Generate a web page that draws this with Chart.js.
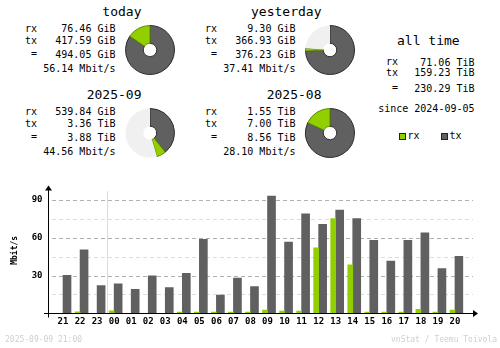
<!DOCTYPE html>
<html>
<head>
<meta charset="utf-8">
<script src="https://cdn.jsdelivr.net/npm/chart.js@4.4.1/dist/chart.umd.min.js"></script>
<style>
  html, body { margin: 0; padding: 0; background: #fff; }
  #wrap { position: relative; width: 500px; height: 348px; overflow: hidden;
          font-family: "DejaVu Sans Mono", monospace; color: #000; }
  .t { position: absolute; white-space: pre; }
  canvas { position: absolute; }
  .box { position: absolute; width: 5px; height: 5px; border: 1px solid #222; }
</style>
</head>
<body>
<div id="wrap">
  <canvas id="hourly" width="500" height="178" style="left:0;top:170px"></canvas>
</div>
<script>
// ── Summary periods ─────────────────────────────────────────
const periods  = ['today', 'yesterday', '2025-09', '2025-08'];
const rxVal    = [76.46, 9.30, 539.84, 1.55];
const rxUnit   = ['GiB', 'GiB', 'GiB', 'TiB'];
const txVal    = [417.59, 366.93, 3.36, 7.00];
const txUnit   = ['GiB', 'GiB', 'TiB', 'TiB'];
const totVal   = [494.05, 376.23, 3.88, 8.56];
const totUnit  = ['GiB', 'GiB', 'TiB', 'TiB'];
const avgRate  = [56.14, 37.41, 44.56, 28.10];

// ── All time ────────────────────────────────────────────────
const allLabels = ['rx', 'tx', '='];
const allVals   = [71.06, 159.23, 230.29];
const allUnit   = 'TiB';
const sinceDate = '2024-09-05';
const stamp     = '2025-09-09 21:00';

// ── Hourly (Mbit/s) ─────────────────────────────────────────
const hours  = ['21','22','23','00','01','02','03','04','05','06','07','08',
                '09','10','11','12','13','14','15','16','17','18','19','20'];
const rxRate = [0, 1.2, 0, 2, 0, 0, 0, 1, 1, 1, 1, 1,
                2.5, 1.7, 1.7, 52, 75.2, 38.5, 1, 1, 1, 3.2, 1, 2.5];
const txRate = [30.2, 50.5, 22, 23.5, 19, 29.7, 20.5, 31.7, 58.7, 14.5, 28, 21.2,
                93.2, 56.5, 79, 70.7, 82, 75.2, 58, 41.5, 58, 64, 35.5, 45.2];

const RX = '#92cf00', TX = '#606060', RXD = '#5e8a00', TXD = '#2c2c2c', EMPTY = '#f0f0f0';
const wrap = document.getElementById('wrap');

function text(str, x, y, size, anchor, color) {
  const d = document.createElement('div');
  d.className = 't';
  d.textContent = str;
  d.style.fontSize = size + 'px';
  d.style.lineHeight = size + 'px';
  d.style.top = (y - size / 2) + 'px';
  if (anchor === 'right') d.style.right = (500 - x) + 'px';
  else d.style.left = x + 'px';
  if (color) d.style.color = color;
  wrap.appendChild(d);
}

const toGiB = (v, u) => u === 'TiB' ? v * 1024 : v;

// ── Period blocks: text + pie ───────────────────────────────
periods.forEach((name, i) => {
  const dx = (i % 2) * 180, dy = Math.floor(i / 2) * 83;
  text(name, 141.5 + dx, 11 + dy, 13, 'right');
  text('rx', 25 + dx, 28.5 + dy, 10);
  text('tx', 25 + dx, 40.8 + dy, 10);
  text('=', 31 + dx, 54.3 + dy, 10);
  text(rxVal[i].toFixed(2) + ' ' + rxUnit[i], 115.5 + dx, 29 + dy, 10, 'right');
  text(txVal[i].toFixed(2) + ' ' + txUnit[i], 115.5 + dx, 41.3 + dy, 10, 'right');
  text(totVal[i].toFixed(2) + ' ' + totUnit[i], 115.5 + dx, 54.5 + dy, 10, 'right');
  text(avgRate[i].toFixed(2) + ' Mbit/s', 115.5 + dx, 68.8 + dy, 10, 'right');

  // pies of a pair share the scale of the bigger total
  const pair = i < 2 ? [0, 1] : [2, 3];
  const sums = pair.map(k => toGiB(rxVal[k], rxUnit[k]) + toGiB(txVal[k], txUnit[k]));
  const rx = toGiB(rxVal[i], rxUnit[i]), tx = toGiB(txVal[i], txUnit[i]);
  const rest = Math.max(...sums) - rx - tx;

  const c = document.createElement('canvas');
  c.width = 52; c.height = 52;
  c.style.left = (150 + dx - 26) + 'px';
  c.style.top = (49.5 + dy - 26) + 'px';
  wrap.appendChild(c);
  new Chart(c, {
    type: 'doughnut',
    data: {
      labels: ['tx', 'rx', ''],
      datasets: [{
        data: [tx, rx, Math.max(rest, 0)],
        backgroundColor: [TX, RX, EMPTY],
        borderColor: [TXD, RXD, EMPTY],
        borderWidth: [1, 1, 0]
      }]
    },
    options: {
      responsive: false, animation: false, events: [],
      radius: 24.5, cutout: 7,
      plugins: { legend: { display: false }, tooltip: { enabled: false } }
    }
  });
});

// ── All time block ──────────────────────────────────────────
text('all time', 397, 40.5, 13);
allLabels.forEach((lab, i) => {
  const y = [62.7, 73.3, 88.7][i];
  text(lab, lab === '=' ? 392 : 386, y - 0.4, 10);
  text(allVals[i].toFixed(2) + ' ' + allUnit, 474.5, y, 10, 'right');
});
text('since ' + sinceDate, 474.5, 108.8, 10, 'right');

// legend
[[RX, 'rx', 398.5], [TX, 'tx', 440.5]].forEach(([col, lab, x]) => {
  const b = document.createElement('div');
  b.className = 'box';
  b.style.left = x + 'px';
  b.style.top = '132.5px';
  b.style.background = col;
  wrap.appendChild(b);
  text(lab, x + 9, 135.5, 10);
});

// footer
text(stamp, 5, 340, 8, 'left', '#cfcfcf');
text('vnStat / Teemu Toivola', 497, 340, 8, 'right', '#cfcfcf');

// ── Hourly bar chart ────────────────────────────────────────
const axesPlugin = {
  id: 'vnAxes',
  beforeDatasetsDraw(chart) {
    const { ctx } = chart;
    const xs = chart.scales.x, ys = chart.scales.y;
    ctx.save();
    ctx.lineWidth = 1;
    ctx.setLineDash([4, 3]);
    for (let v = 15; v <= 90; v += 15) {
      const y = Math.round(ys.getPixelForValue(v)) + 0.5;
      ctx.strokeStyle = v % 30 === 0 ? '#b0b0b0' : '#dcdcdc';
      ctx.beginPath();
      ctx.moveTo(52, y);
      ctx.lineTo(473, y);
      ctx.stroke();
    }
    // day boundary between 23 and 00
    ctx.setLineDash([]);
    ctx.strokeStyle = '#dcdcdc';
    const dx = Math.round(xs.getPixelForValue(2.5) + 1.5) + 0.5;
    ctx.beginPath();
    ctx.moveTo(dx, ys.getPixelForValue(97));
    ctx.lineTo(dx, ys.getPixelForValue(0));
    ctx.stroke();
    ctx.restore();
  },
  afterDatasetsDraw(chart) {
    const { ctx } = chart;
    const ys = chart.scales.y;
    const y0 = Math.round(ys.getPixelForValue(0)) + 0.5;
    const yTop = ys.getPixelForValue(100);
    const ax = 48.5;
    ctx.save();
    ctx.strokeStyle = '#000';
    ctx.fillStyle = '#000';
    ctx.lineWidth = 1;
    ctx.beginPath();
    ctx.moveTo(44, y0); ctx.lineTo(474, y0);
    ctx.moveTo(ax, y0 + 4); ctx.lineTo(ax, yTop + 2);
    ctx.stroke();
    // arrow heads
    ctx.beginPath();
    ctx.moveTo(478, y0); ctx.lineTo(473, y0 - 3.5); ctx.lineTo(473, y0 + 3.5); ctx.closePath();
    ctx.fill();
    ctx.beginPath();
    ctx.moveTo(ax, yTop - 2); ctx.lineTo(ax - 3.5, yTop + 3); ctx.lineTo(ax + 3.5, yTop + 3); ctx.closePath();
    ctx.fill();
    ctx.restore();
  }
};

new Chart(document.getElementById('hourly'), {
  type: 'bar',
  data: {
    labels: hours,
    datasets: [
      { label: 'rx', data: rxRate, backgroundColor: RX, barThickness: 5, borderWidth: 0 },
      { label: 'tx', data: txRate, backgroundColor: TX, barThickness: 8, borderWidth: 0 }
    ]
  },
  options: {
    responsive: false, animation: false, events: [],
    layout: { padding: { left: 0, top: 10, right: 36.5, bottom: 0 } },
    scales: {
      x: {
        offset: true,
        grid: { display: false, drawTicks: false },
        border: { display: false },
        ticks: {
          color: '#000', padding: 3, autoSkip: false, maxRotation: 0,
          font: { family: 'DejaVu Sans Mono', size: 9, weight: 'bold' }
        },
        afterFit: s => { s.height = 34.7; }
      },
      y: {
        min: 0, max: 100,
        grid: { display: false, drawTicks: false },
        border: { display: false },
        ticks: {
          stepSize: 30, color: '#000', padding: 12,
          font: { family: 'DejaVu Sans Mono', size: 9, weight: 'bold' },
          callback: v => (v > 0 && v % 30 === 0) ? String(v) : null
        },
        title: {
          display: true, text: 'Mbit/s', color: '#000',
          font: { family: 'DejaVu Sans Mono', size: 8, weight: 'bold' },
          padding: { top: 10, bottom: 0 }
        },
        afterFit: s => { s.width = 54.5; }
      }
    },
    plugins: { legend: { display: false }, tooltip: { enabled: false } }
  },
  plugins: [axesPlugin]
});
</script>
</body>
</html>
